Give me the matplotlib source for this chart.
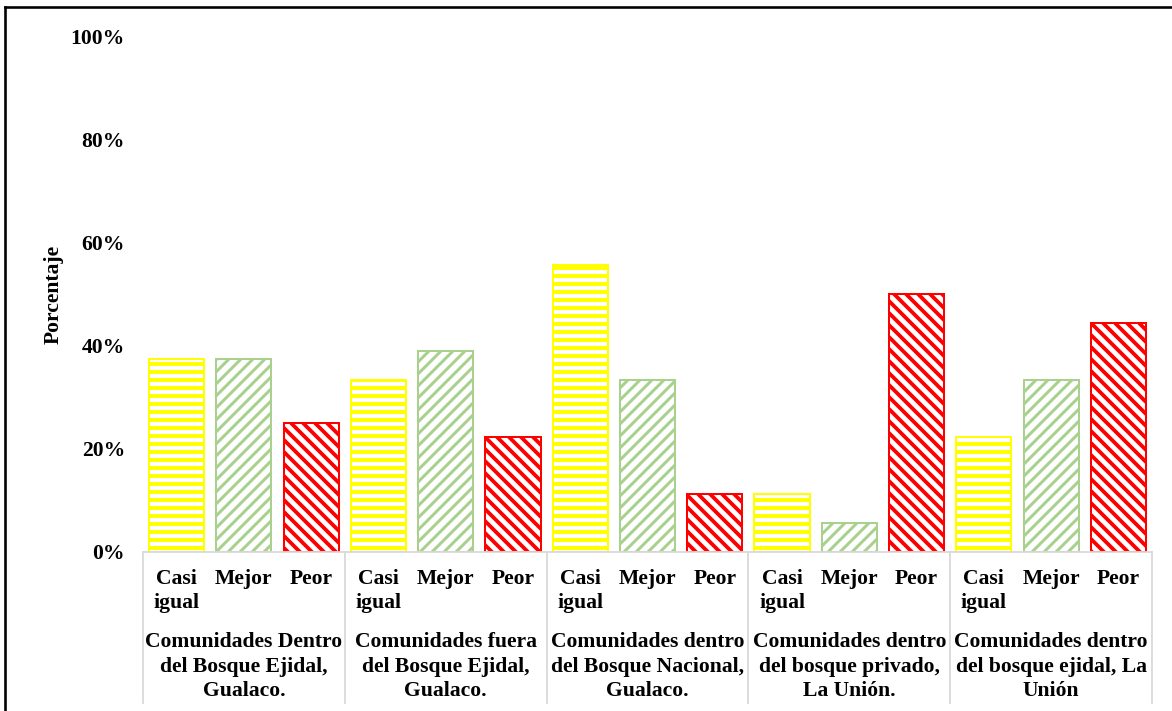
import matplotlib
matplotlib.use("Agg")
import matplotlib.pyplot as plt
from matplotlib.lines import Line2D
from matplotlib.ticker import FuncFormatter

# Survey answers per community group (percent of respondents)
groups = [
    "Comunidades Dentro\ndel Bosque Ejidal,\nGualaco.",
    "Comunidades fuera\ndel Bosque Ejidal,\nGualaco.",
    "Comunidades dentro\ndel Bosque Nacional,\nGualaco.",
    "Comunidades dentro\ndel bosque privado,\nLa Unión.",
    "Comunidades dentro\ndel bosque ejidal, La\nUnión",
]
answers = ["Casi\nigual", "Mejor", "Peor"]
casi_igual = [37.5, 33.3, 55.6, 11.1, 22.2]
mejor = [37.5, 38.9, 33.3, 5.6, 33.3]
peor = [25.0, 22.2, 11.1, 50.0, 44.4]
y_ticks = [0, 20, 40, 60, 80, 100]

series = [casi_igual, mejor, peor]
colors = ["#FFFF00", "#A9D18E", "#FF0000"]
hatches = ["---", "////", "\\\\\\\\"]
hatch_widths = [2.0, 1.5, 1.9]

plt.rcParams["font.family"] = ["Liberation Serif", "DejaVu Serif"]
plt.rcParams["font.weight"] = "bold"
plt.rcParams["hatch.linewidth"] = 1.8

DPI = 144
fig = plt.figure(figsize=(1172 / DPI, 711 / DPI), dpi=DPI)
ax = fig.add_axes([143 / 1172, 1 - 551.5 / 711, (1152 - 143) / 1172, (551.5 - 37) / 711])

n_ans = len(answers)
fs = 10.8
for g in range(len(groups)):
    for k in range(n_ans):
        x = g * n_ans + k
        bar = ax.bar(x, series[k][g], width=0.82, facecolor="white",
                     edgecolor=colors[k], linewidth=1.0, hatch=hatches[k])
        for p in bar.patches:
            if hasattr(p, "set_hatch_linewidth"):
                p.set_hatch_linewidth(hatch_widths[k])

ax.set_xlim(-0.5, len(groups) * n_ans - 0.5)
ax.set_ylim(0, 100)
ax.set_yticks(y_ticks)
ax.yaxis.set_major_formatter(FuncFormatter(lambda v, _: f"{int(v)}%"))
ax.tick_params(axis="y", length=0, pad=9, labelsize=fs)
ax.set_xticks([])
for s in ["top", "right", "left"]:
    ax.spines[s].set_visible(False)
ax.spines["bottom"].set_color("#D9D9D9")
ax.spines["bottom"].set_linewidth(0.9)

ax.set_ylabel("Porcentaje", fontsize=fs, fontweight="bold", labelpad=3.5)

# Two-level category axis: answer labels, group labels and separators
xt = ax.get_xaxis_transform()
for g, name in enumerate(groups):
    for k, lab in enumerate(answers):
        x = g * n_ans + k
        for i, line in enumerate(lab.split("\n")):
            ax.annotate(line, xy=(x, 0), xycoords=xt, xytext=(0, -16.25 - 12.0 * i),
                        textcoords="offset points", ha="center", va="baseline",
                        fontsize=fs, fontweight="bold")
    ax.annotate(name, xy=(g * n_ans + 1, 0), xycoords=xt, xytext=(0, -40.3),
                textcoords="offset points", ha="center", va="top",
                fontsize=fs, fontweight="bold", multialignment="center",
                linespacing=1.31)
for b in range(len(groups) + 1):
    xb = b * n_ans - 0.5
    ax.add_line(Line2D([xb, xb], [0, -151.5 / 514.5], transform=xt,
                       color="#D9D9D9", linewidth=0.9, clip_on=False))

# Chart frame (top and left edges)
fig.add_artist(Line2D([5 / 1172, 1], [1 - 7 / 711, 1 - 7 / 711],
                      transform=fig.transFigure, color="black", linewidth=1.3))
fig.add_artist(Line2D([5 / 1172, 5 / 1172], [0, 1 - 7 / 711],
                      transform=fig.transFigure, color="black", linewidth=1.3))

fig.savefig("out.png", dpi=DPI)
